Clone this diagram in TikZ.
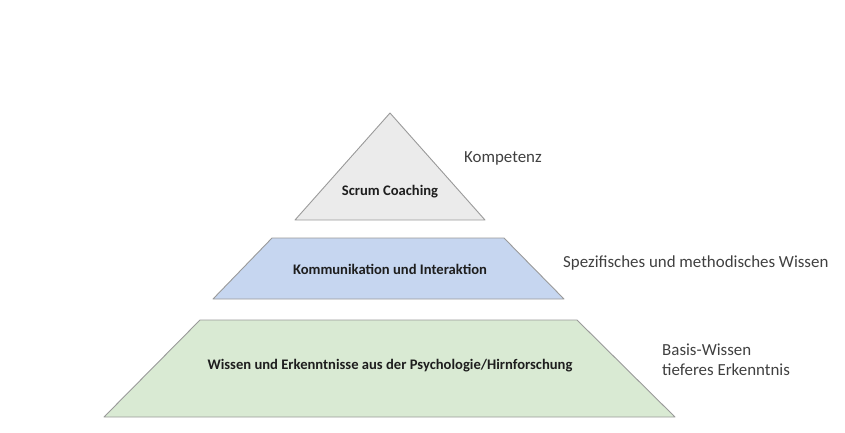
\documentclass[tikz,border=0pt]{standalone}
\usepackage{fontspec}
\setmainfont{Carlito}
\definecolor{edge}{HTML}{9A9A9A}
\definecolor{topfill}{HTML}{EBEBEB}
\definecolor{midfill}{HTML}{C6D6F0}
\definecolor{botfill}{HTML}{D9EAD3}
\definecolor{labtext}{HTML}{404040}
\definecolor{intext}{HTML}{1E1E1E}
\begin{document}
\begin{tikzpicture}[x=1pt,y=-1pt,
  level/.style={draw=edge,line width=0.9pt,line join=round},
  inlabel/.style={font=\bfseries\fontsize{14.6}{17}\selectfont,text=intext,inner sep=0pt},
  sidelabel/.style={font=\fontsize{16.9}{20}\selectfont,text=labtext,anchor=west,inner sep=0pt,align=left}]
\useasboundingbox (0,0) rectangle (845,432);
% top triangle
\draw[level,fill=topfill] (390,113) -- (485,220) -- (295,220) -- cycle;
% middle trapezoid
\draw[level,fill=midfill] (272,238) -- (504,238) -- (564,299) -- (213,299) -- cycle;
% bottom trapezoid
\draw[level,fill=botfill] (200,320) -- (577,320) -- (675,417) -- (104,417) -- cycle;
% inner labels
\node[inlabel] (t1) at (390,192) {Scrum Coaching};
\node[inlabel] (t2) at (390,269) {Kommunikation und Interaktion};
\node[inlabel] (t3) at (390,366) {Wissen und Erkenntnisse aus der Psychologie/Hirnforschung};
% side labels
\node[sidelabel] (s1) at (464,158) {Kompetenz};
\node[sidelabel] (s2) at (563,263) {Spezifisches und methodisches Wissen};
\node[sidelabel] (s3) at (662,360) {Basis-Wissen\\tieferes Erkenntnis};
\end{tikzpicture}
\end{document}
